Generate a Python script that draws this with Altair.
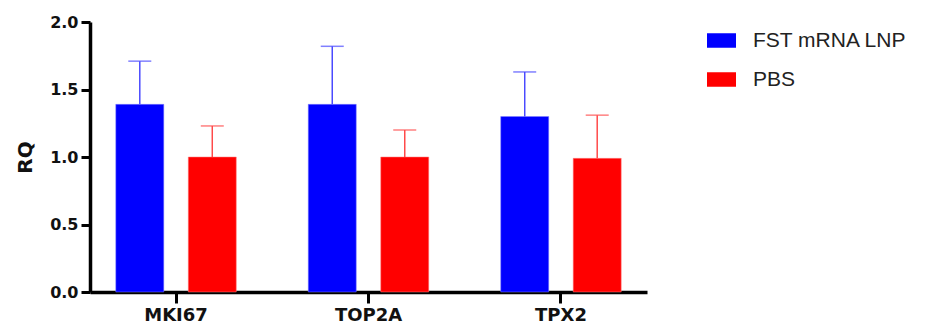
import altair as alt
import pandas as pd

genes = ["MKI67", "TOP2A", "TPX2"]
groups = ["FST mRNA LNP", "PBS"]
fst_mean = [1.39, 1.39, 1.30]
fst_upper = [1.71, 1.82, 1.63]
pbs_mean = [1.00, 1.00, 0.99]
pbs_upper = [1.23, 1.20, 1.31]
colors = ["#0000FF", "#FF0000"]

rows = []
for i, g in enumerate(genes):
    rows.append({"gene": g, "group": groups[0], "mean": fst_mean[i], "upper": fst_upper[i]})
    rows.append({"gene": g, "group": groups[1], "mean": pbs_mean[i], "upper": pbs_upper[i]})
df = pd.DataFrame(rows)

xenc = alt.X("gene:N", sort=genes,
             scale=alt.Scale(paddingInner=0.374, paddingOuter=0.134),
             axis=alt.Axis(title=None, labelAngle=0, labelFont="DejaVu Sans",
                           labelFontWeight="bold", labelFontSize=18, labelColor="#111",
                           domainColor="#000", domainWidth=3.5, tickColor="#000",
                           tickWidth=3, tickSize=11, labelPadding=3))
xoff = alt.XOffset("group:N", sort=groups, scale=alt.Scale(paddingInner=0.338, paddingOuter=0))
color = alt.Color("group:N", sort=groups,
                  scale=alt.Scale(domain=groups, range=colors),
                  legend=alt.Legend(title=None, orient="none", legendX=617, legendY=4,
                                    symbolType="M-1,-0.5H1V0.5H-1Z", symbolSize=841,
                                    symbolStrokeWidth=0, labelFont="Liberation Sans",
                                    labelFontSize=21, labelColor="#222", labelOffset=17,
                                    rowPadding=14,
                                    labelExpr="datum.label == 'PBS' ? '\u00a0PBS' : datum.label"))
yscale = alt.Scale(domain=[0, 2])

base = alt.Chart(df)

bars = base.mark_bar(strokeWidth=1, strokeOpacity=0.5).encode(
    x=xenc, xOffset=xoff,
    y=alt.Y("mean:Q", scale=yscale,
            axis=alt.Axis(title="RQ", values=[0, 0.5, 1.0, 1.5, 2.0], format=".1f",
                          grid=False, labelFont="DejaVu Sans", labelFontWeight="bold",
                          labelFontSize=16, labelColor="#111", titleFont="DejaVu Sans",
                          titleFontWeight="bold", titleFontSize=20, titleColor="#111",
                          titlePadding=14, domainColor="#000", domainWidth=3.5,
                          tickColor="#000", tickWidth=3, tickSize=9, labelPadding=3)),
    color=color,
    stroke=alt.Color("group:N", sort=groups, scale=alt.Scale(domain=groups, range=["#8080ff", "#ff8080"]), legend=None),
)

err = base.mark_rule(strokeWidth=1.5).encode(
    x=xenc, xOffset=xoff,
    y=alt.Y("mean:Q", scale=yscale), y2="upper:Q",
    color=alt.Color("group:N", sort=groups, scale=alt.Scale(domain=groups, range=["#4a4aff", "#ff4a4a"]), legend=None),
)

cap = base.mark_tick(thickness=1.5, size=23).encode(
    x=xenc, xOffset=xoff,
    y=alt.Y("upper:Q", scale=yscale),
    color=alt.Color("group:N", sort=groups, scale=alt.Scale(domain=groups, range=["#4a4aff", "#ff4a4a"]), legend=None),
)

chart = alt.layer(bars, err, cap).resolve_scale(color="independent", stroke="independent").properties(
    width=557, height=270,
    autosize=alt.AutoSizeParams(type="none"),
    padding={"left": 82, "top": 14, "right": 270, "bottom": 37},
).configure_view(stroke=None)

chart.save("out.html", embed_options={"renderer": "svg", "actions": False})
